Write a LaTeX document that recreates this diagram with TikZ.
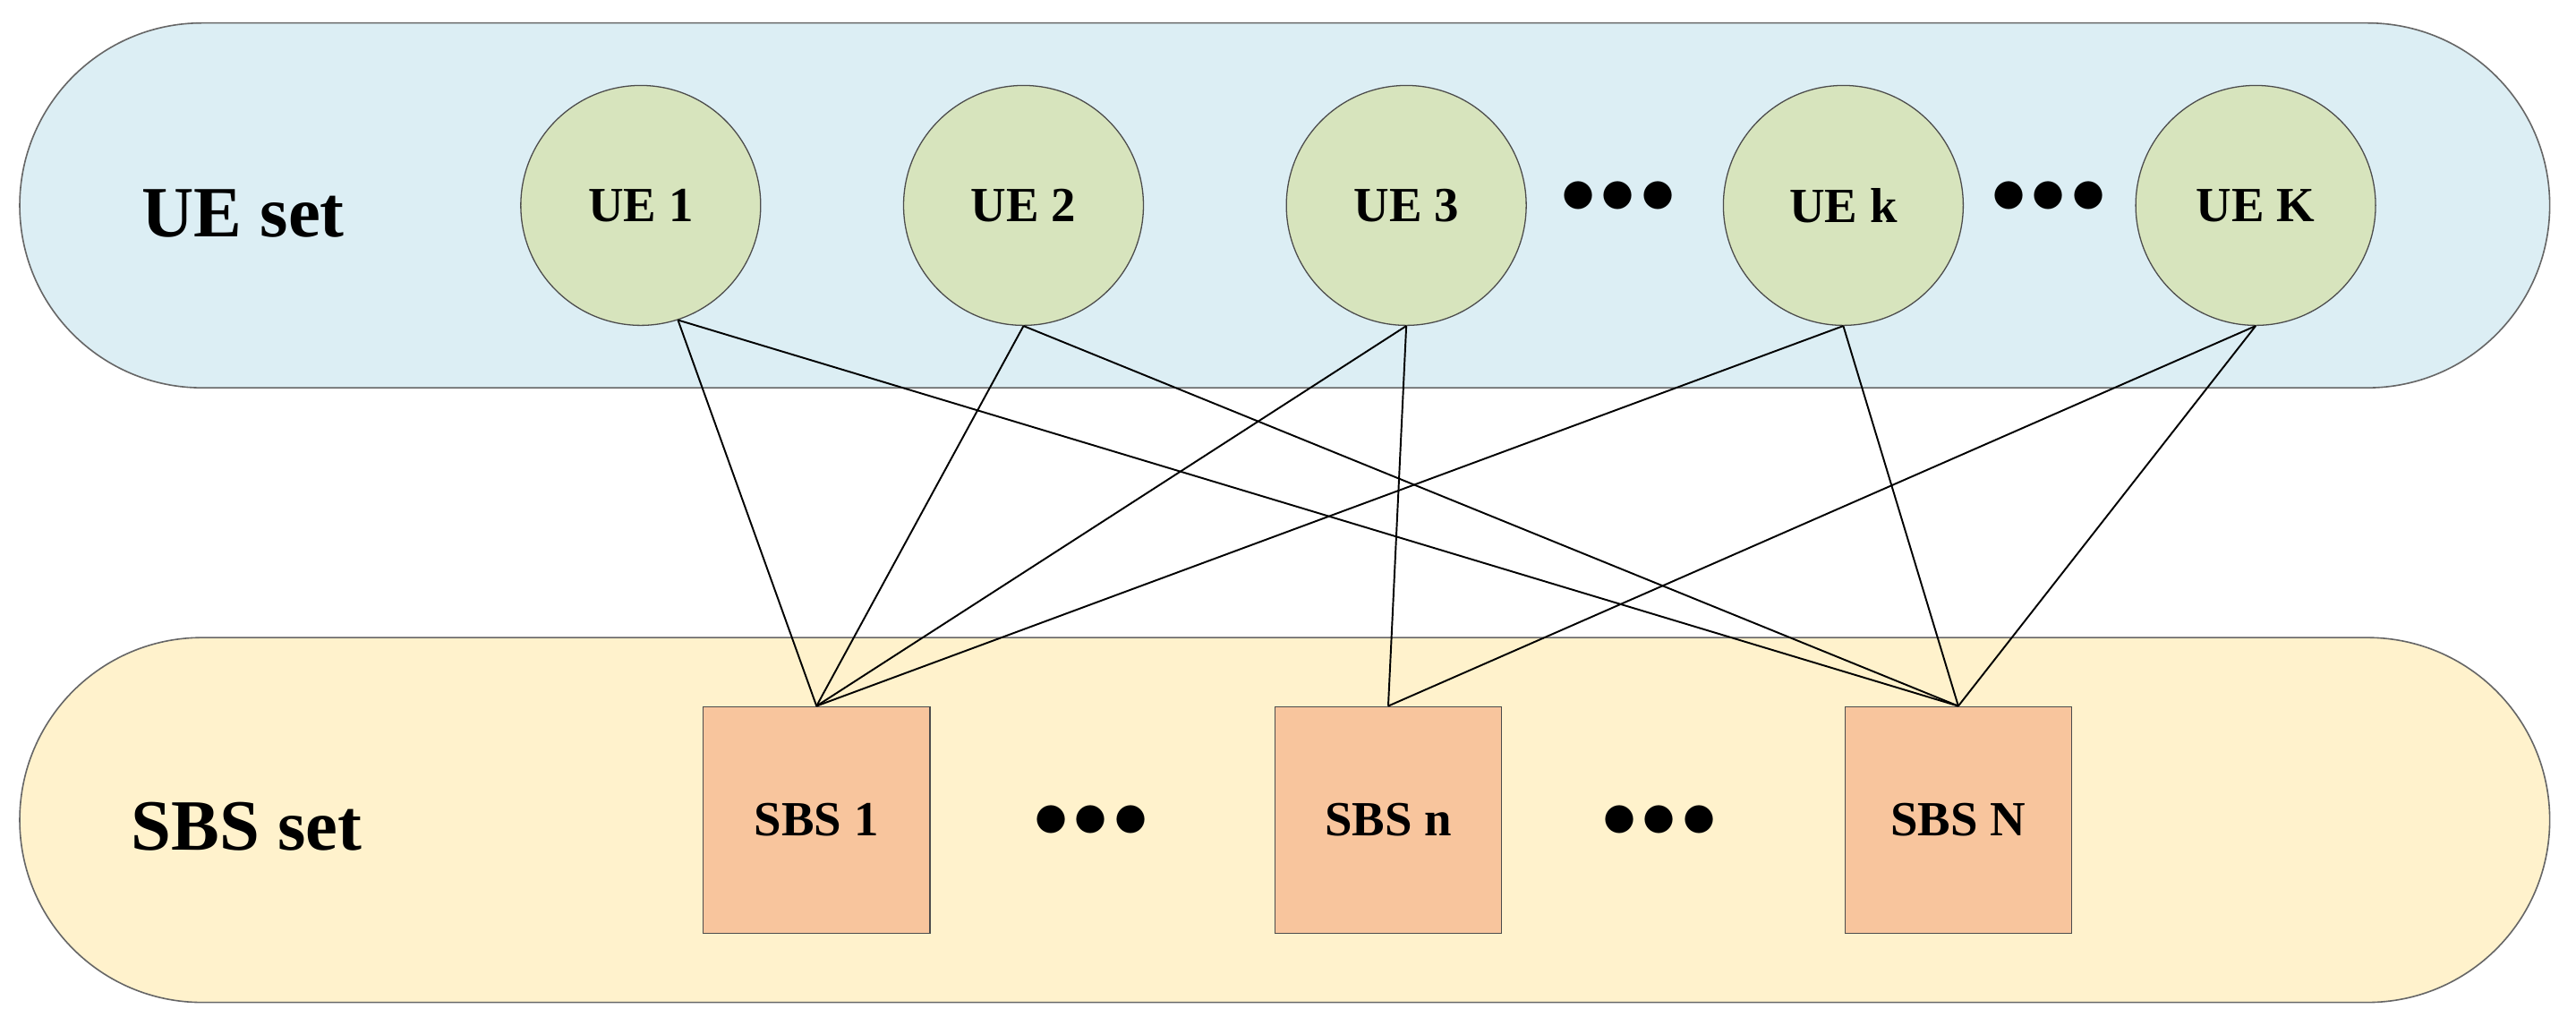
\documentclass[tikz,border=0pt]{standalone}
\usepackage{fontspec}
\setmainfont{Liberation Serif}
\begin{document}
\begin{tikzpicture}[x=0.02cm,y=-0.02cm,
  band/.style={draw=black!60,line width=0.5pt,rounded corners=111*0.02cm},
  ue/.style={circle,draw=black!70,fill=ueg,minimum size=146*0.02cm,inner sep=0pt,font=\bfseries\fontsize{17}{20}\selectfont},
  sbs/.style={rectangle,draw=black!70,fill=sbso,minimum size=138*0.02cm,inner sep=0pt,font=\bfseries\fontsize{17}{20}\selectfont},
  lbl/.style={font=\bfseries\fontsize{25}{30}\selectfont},
  dots/.style={font=\bfseries\fontsize{24}{28}\selectfont},
  link/.style={draw=black,line width=0.6pt}]
\definecolor{ueband}{HTML}{DCEEF4}
\definecolor{sbsband}{HTML}{FFF2CC}
\definecolor{ueg}{HTML}{D7E4BD}
\definecolor{sbso}{HTML}{F8C59D}
\useasboundingbox (0,0) rectangle (1568,624);
\node[band,fill=ueband,minimum width=1540*0.02cm,minimum height=222*0.02cm] (ueb) at (782,125) {};
\node[band,fill=sbsband,minimum width=1540*0.02cm,minimum height=222*0.02cm] (sbsb) at (782,499) {};
\node[lbl] (uel) at (148,130) {UE set};
\node[lbl] (sbsl) at (150,503) {SBS set};
\node[ue] (u1) at (390,125) {UE 1};
\node[ue] (u2) at (623,125) {UE 2};
\node[ue] (u3) at (856,125) {UE 3};
\node[ue] (uk) at (1122,125) {UE k};
\node[ue] (uK) at (1373,125) {UE K};
\node[dots] (d1) at (985,120) {$\bullet\!\bullet\!\bullet$};
\node[dots] (d2) at (1247,120) {$\bullet\!\bullet\!\bullet$};
\node[sbs] (s1) at (497,499) {SBS 1};
\node[sbs] (sn) at (845,499) {SBS n};
\node[sbs] (sN) at (1192,499) {SBS N};
\node[dots] (d3) at (664,500) {$\bullet\!\bullet\!\bullet$};
\node[dots] (d4) at (1010,500) {$\bullet\!\bullet\!\bullet$};
\draw[link] (u1.-72) -- (s1.north);
\draw[link] (u1.-72) -- (sN.north);
\draw[link] (u2.south) -- (s1.north);
\draw[link] (u2.south) -- (sN.north);
\draw[link] (u3.south) -- (s1.north);
\draw[link] (u3.south) -- (sn.north);
\draw[link] (uk.south) -- (s1.north);
\draw[link] (uk.south) -- (sN.north);
\draw[link] (uK.south) -- (sn.north);
\draw[link] (uK.south) -- (sN.north);
\end{tikzpicture}
\end{document}
